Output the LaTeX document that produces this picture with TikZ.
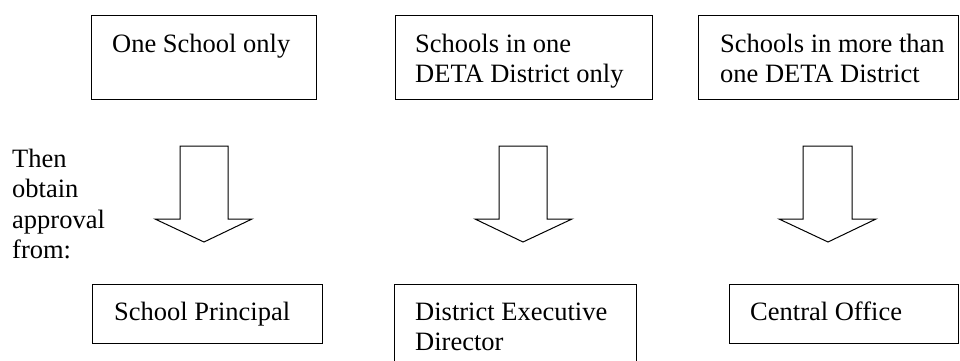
\documentclass[tikz,border=0pt]{standalone}
\usepackage{fontspec}
\setmainfont{Liberation Serif}
\begin{document}
\begin{tikzpicture}[x=1pt,y=-1pt,
  box/.style={draw=black, line width=1.3pt, rectangle, inner sep=0pt, anchor=north west},
  txt/.style={font=\fontsize{26.5}{30.5}\selectfont, inner sep=0pt, anchor=base west},
  blockarrow/.style={draw=black, line width=1pt, line join=miter, fill=white}]
\useasboundingbox (0,0) rectangle (960,360);
% top boxes
\node[box, minimum width=225pt, minimum height=84pt] (b1) at (91,15) {};
\node[box, minimum width=257pt, minimum height=84pt] (b2) at (395,15) {};
\node[box, minimum width=260pt, minimum height=84pt] (b3) at (698,15) {};
\node[txt] (t1) at (112,52) {One School only};
\node[txt] (t2a) at (415,52) {Schools in one};
\node[txt] (t2b) at (415,82) {DETA District only};
\node[txt] (t3a) at (720,52) {Schools in more than};
\node[txt] (t3b) at (720,82) {one DETA District};
% bottom boxes
\node[box, minimum width=230pt, minimum height=59pt] (c1) at (92,284) {};
\node[box, minimum width=242pt, minimum height=77pt] (c2) at (394,284) {};
\node[box, minimum width=229pt, minimum height=59pt] (c3) at (729,284) {};
\node[txt] (u1) at (114,320) {School Principal};
\node[txt] (u2a) at (415,320) {District Executive};
\node[txt] (u2b) at (415,350) {Director};
\node[txt] (u3) at (750,320) {Central Office};
% left note
\node[txt] (n1) at (12,167) {Then};
\node[txt] (n2) at (12,197.5) {obtain};
\node[txt] (n3) at (12,228) {approval};
\node[txt] (n4) at (12,258.5) {from:};
% block arrows
\draw[blockarrow] (180,146) -- (228,146) -- (228,219) -- (252,219) -- (204,242) -- (155,219) -- (180,219) -- cycle;
\draw[blockarrow] (499,146) -- (547,146) -- (547,219) -- (572,219) -- (523,242) -- (475,219) -- (499,219) -- cycle;
\draw[blockarrow] (803,146) -- (852,146) -- (852,219) -- (876,219) -- (828,242) -- (779,219) -- (803,219) -- cycle;
\end{tikzpicture}
\end{document}
